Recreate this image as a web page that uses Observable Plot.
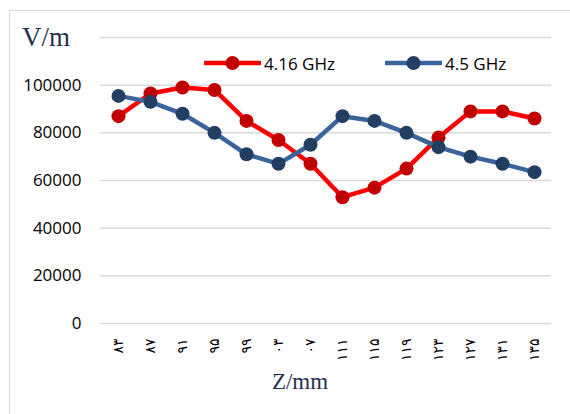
<!DOCTYPE html>
<html><head><meta charset="utf-8">
<script src="https://cdn.jsdelivr.net/npm/d3@7"></script>
<script src="https://cdn.jsdelivr.net/npm/@observablehq/plot@0.6"></script>
<style>
body{margin:0;background:#fff;}
#wrap{position:relative;width:570px;height:414px;overflow:hidden;font-family:"Open Sans",sans-serif;background:#fff;}
#border{position:absolute;left:9px;top:10px;width:640px;height:520px;border:1px solid #d9d9d9;}
#chart{position:absolute;left:0;top:0;}
.ylab{position:absolute;left:22px;top:20px;font-family:"Liberation Serif",serif;font-size:27px;color:#25304f;line-height:34px;}
.xlab{position:absolute;left:240px;width:120px;top:368px;text-align:center;font-family:"Liberation Serif",serif;font-size:23px;color:#25304f;line-height:28px;}
.leg{position:absolute;top:50px;height:26px;display:flex;align-items:center;font-size:17px;color:#000;}
.leg svg{margin-right:3px;}
</style>
</head><body>
<div id="wrap">
  <div id="border"></div>
  <div id="chart"></div>
  <div class="ylab">V/m</div>
  <div class="xlab">Z/mm</div>
  <div id="legend"></div>
</div>
<script>
const zLabels = ["۸۳","۸۷","۹۱","۹۵","۹۹","۰۳","۰۷","۱۱۱","۱۱۵","۱۱۹","۱۲۳","۱۲۷","۱۳۱","۱۳۵"];
const series416 = [87000, 96500, 99000, 98000, 85000, 77000, 67000, 53000, 57000, 65000, 78000, 89000, 89000, 86000];
const series45  = [95500, 93000, 88000, 80000, 71000, 67000, 75000, 87000, 85000, 80000, 74000, 70000, 67000, 63500];
const seriesNames = ["4.16 GHz", "4.5 GHz"];
const lineColors = ["#ff0000", "#3a649a"];
const dotColors = ["#c00000", "#233e63"];
const yTicks = [0, 20000, 40000, 60000, 80000, 100000];
const yGrid = [0, 20000, 40000, 60000, 80000, 100000, 120000];

const rows = [];
zLabels.forEach((z, i) => {
  rows.push({z, v: series416[i], s: seriesNames[0]});
  rows.push({z, v: series45[i], s: seriesNames[1]});
});

const chart = Plot.plot({
  width: 570,
  height: 414,
  marginLeft: 100,
  marginRight: 19,
  marginTop: 37,
  marginBottom: 91,
  style: {background: "transparent", fontFamily: "Open Sans, sans-serif", fontSize: "17px", color: "#000"},
  x: {type: "point", domain: zLabels, padding: 0.5, label: null},
  y: {domain: [0, 120000], label: null},
  color: {domain: seriesNames, range: lineColors},
  marks: [
    Plot.gridY(yGrid, {stroke: "#d9d9d9", strokeOpacity: 1, strokeWidth: 1.5}),
    Plot.axisY(yTicks, {tickSize: 0, tickPadding: 19, tickFormat: d => String(d), fontSize: 17, label: null}),
    Plot.axisX({tickSize: 0, tickPadding: 15, tickRotate: -90, fontSize: 14, fontFamily: "DejaVu Sans", label: null}),
    Plot.line(rows, {x: "z", y: "v", z: "s", stroke: d => d.s, strokeWidth: 4.5}),
    Plot.dot(rows, {x: "z", y: "v", r: 7, fill: d => d.s === seriesNames[0] ? dotColors[0] : dotColors[1], stroke: "none"})
  ]
});
document.getElementById("chart").appendChild(chart);

// legend
const legend = document.getElementById("legend");
const legendLeft = [204, 385];
seriesNames.forEach((name, i) => {
  const div = document.createElement("div");
  div.className = "leg";
  div.style.left = legendLeft[i] + "px";
  div.innerHTML = `<svg width="57" height="16"><line x1="1" x2="56" y1="8" y2="8" stroke="${lineColors[i]}" stroke-width="4.5" stroke-linecap="round"/><circle cx="28.5" cy="8" r="7" fill="${dotColors[i]}"/></svg><span>${name}</span>`;
  legend.appendChild(div);
});
</script>
</body></html>
